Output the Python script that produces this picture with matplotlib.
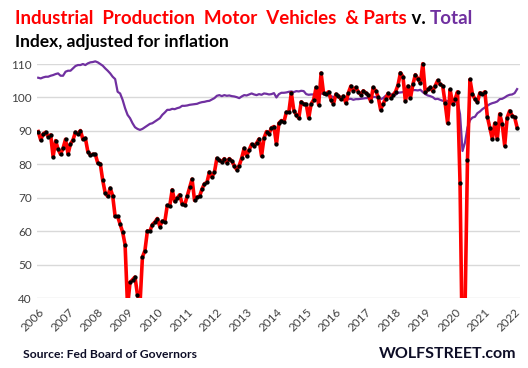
import numpy as np
import matplotlib
matplotlib.use("Agg")
import matplotlib.pyplot as plt
from matplotlib.patches import Rectangle

plt.rcParams['font.family'] = ['Lato', 'DejaVu Sans']

# monthly index, Jan 2006 .. Feb 2022
motor = [
    89.8, 87.3, 89.1, 89.6, 88.3, 88.8, 82.3, 87.1, 84.5, 83.0, 84.8, 87.5,   # 2006
    83.1, 86.1, 87.3, 89.6, 89.1, 90.1, 87.5, 87.8, 83.8, 82.8, 83.0, 83.0,   # 2007
    80.4, 80.2, 75.2, 71.4, 70.4, 72.9, 70.6, 64.4, 64.4, 62.1, 59.8, 56.0,   # 2008
    37.5, 44.7, 45.5, 46.3, 41.0, 38.0, 52.3, 54.2, 60.1, 60.0, 62.0, 62.7,   # 2009
    63.8, 61.4, 63.0, 62.8, 67.7, 67.6, 72.4, 68.9, 69.9, 70.9, 68.2, 67.8,   # 2010
    70.4, 73.1, 75.6, 69.2, 70.2, 70.4, 72.6, 74.2, 74.6, 77.7, 76.2, 77.6,   # 2011
    81.8, 81.3, 80.7, 81.7, 80.5, 81.7, 81.0, 79.6, 78.4, 79.6, 81.9, 84.8,   # 2012
    82.5, 84.3, 86.0, 85.5, 86.3, 87.6, 82.5, 87.9, 89.8, 89.1, 90.9, 91.3,   # 2013
    86.0, 92.3, 93.1, 92.6, 95.6, 95.6, 101.4, 96.1, 94.8, 93.8, 98.7, 98.0,  # 2014
    98.0, 93.8, 98.1, 99.3, 103.0, 97.8, 107.3, 101.2, 101.0, 101.7, 99.3, 98.1,   # 2015
    101.0, 100.5, 99.5, 100.4, 98.3, 101.4, 103.4, 102.0, 103.0, 101.7, 100.8, 102.0,  # 2016
    101.4, 100.8, 98.8, 103.0, 102.0, 100.2, 96.3, 98.1, 99.6, 101.2, 99.8, 100.8,   # 2017
    101.7, 103.7, 107.4, 106.2, 98.8, 103.4, 99.8, 103.9, 106.8, 105.6, 104.3, 110.1,  # 2018
    101.5, 102.4, 103.0, 101.9, 103.5, 105.1, 103.9, 103.5, 98.3, 92.3, 102.4, 98.1,   # 2019
    99.5, 101.7, 74.4, 20.0, 36.0, 81.3, 105.4, 101.0, 99.5, 98.6, 101.4, 101.0,     # 2020
    101.7, 94.3, 91.0, 87.6, 92.3, 87.5, 95.1, 92.0, 85.6, 94.0, 96.0, 94.6,         # 2021
    94.1, 91.0,                                                                       # 2022
]

total = [
    105.9, 105.7, 106.0, 106.2, 106.2, 106.5, 106.7, 107.0, 107.2, 106.5, 106.5, 107.7,
    108.0, 108.0, 108.7, 109.4, 109.7, 109.7, 110.0, 109.7, 110.2, 110.5, 110.6, 110.8,
    110.5, 110.0, 109.5, 108.7, 108.0, 107.2, 106.2, 105.5, 101.7, 101.2, 99.3, 96.8,
    94.8, 93.8, 92.3, 91.1, 90.6, 90.3, 90.6, 91.1, 91.6, 92.1, 92.3, 92.8,
    93.3, 93.8, 94.8, 95.5, 96.3, 96.3, 96.6, 96.5, 96.8, 97.0, 97.5, 97.5,
    97.6, 97.8, 97.9, 98.0, 98.1, 98.4, 98.6, 98.7, 98.9, 99.0, 99.4, 99.8,
    100.5, 100.7, 100.4, 100.7, 100.5, 100.6, 100.4, 100.3, 100.1, 99.8, 100.3, 100.7,
    100.6, 100.9, 101.2, 100.9, 100.7, 101.0, 100.8, 101.2, 101.1, 100.9, 101.0, 101.3,
    100.0, 101.0, 101.4, 101.4, 101.5, 101.7, 101.8, 101.6, 101.9, 101.8, 102.0, 101.9,
    101.0, 100.8, 100.9, 100.9, 100.8, 101.0, 101.2, 101.0, 100.8, 100.6, 100.4, 100.1,
    100.3, 100.2, 99.7, 99.5, 99.6, 99.5, 99.6, 99.3, 99.5, 99.5, 99.6, 99.7,
    99.8, 99.8, 99.6, 100.2, 100.1, 100.0, 99.5, 99.8, 100.5, 100.6, 100.9, 101.0,
    100.8, 101.4, 101.5, 101.6, 102.0, 102.0, 102.1, 102.2, 102.2, 102.1, 102.3, 101.6,
    101.0, 100.6, 100.4, 100.1, 99.5, 99.6, 99.3, 99.0, 99.1, 98.9, 99.2, 98.9,
    98.6, 98.8, 95.0, 84.0, 86.5, 91.0, 93.2, 94.0, 94.2, 95.3, 95.8, 96.5,
    97.0, 97.5, 98.0, 98.3, 98.5, 98.8, 99.5, 99.6, 100.0, 100.5, 100.8, 100.9,
    101.3, 102.5,
]

years = [str(y) for y in range(2006, 2023)]
yticks = [40, 50, 60, 70, 80, 90, 100, 110]

months = np.arange(len(motor))

fig = plt.figure(figsize=(5.28, 3.68), dpi=100)
ax = fig.add_axes([0.071, 0.190, 0.914, 0.636])

l_tot, = ax.plot(months, total, color='#7030A0', linewidth=1.6, zorder=2)
l_mot, = ax.plot(months, motor, color='#FF0000', linewidth=2.6, zorder=3,
                 marker='o', markersize=2.1, markerfacecolor='black', markeredgecolor='black')

# clip only at the bottom, let lines poke a bit above the 110 line like Excel does
clip = Rectangle((0, 0), 1, 1.08, transform=ax.transAxes, visible=False)
ax.add_patch(clip)
l_tot.set_clip_path(clip)
l_mot.set_clip_path(clip)

ax.set_ylim(40, 110)
ax.set_xlim(-0.3, 194.2)
ax.set_yticks(yticks)
ax.set_xticks(np.arange(len(years)) * 12)
ax.set_xticklabels(years, rotation=45, ha='right', rotation_mode='anchor')
ax.tick_params(length=0, labelsize=8.5, colors='#404040')
ax.tick_params(axis='x', pad=6)
ax.tick_params(axis='y', pad=4)
ax.grid(axis='y', color='#D9D9D9', linewidth=1)
ax.set_axisbelow(True)
for s in ax.spines.values():
    s.set_visible(False)

# title in three colours
ty = 1 - 24/368
t1 = fig.text(15/528, ty, 'Industrial  Production  Motor  Vehicles  & Parts',
              color='#FF0000', fontsize=13.5, fontweight='bold', va='baseline')
t2 = fig.text(0, ty, ' v. ', color='black', fontsize=13.5, fontweight='bold', va='baseline')
t3 = fig.text(0, ty, 'Total', color='#7030A0', fontsize=13.5, fontweight='bold', va='baseline')
fig.canvas.draw()
r = fig.canvas.get_renderer()
x = t1.get_window_extent(r).x1 / fig.bbox.width
t2.set_x(x)
fig.canvas.draw()
x = t2.get_window_extent(r).x1 / fig.bbox.width
t3.set_x(x)

fig.text(15/528, 1 - 47/368, 'Index, adjusted for inflation',
         color='black', fontsize=12.5, fontweight='bold', va='baseline')

fig.text(23/528, 1 - 358/368, 'Source: Fed Board of Governors',
         color='#0D0D26', fontsize=8.7, fontweight='bold', va='baseline')
fig.text(516/528, 1 - 358/368, 'WOLFSTREET.com',
         color='#0D0D26', fontsize=11.5, fontweight='bold', va='baseline', ha='right')

fig.savefig('out.png', dpi=100)
